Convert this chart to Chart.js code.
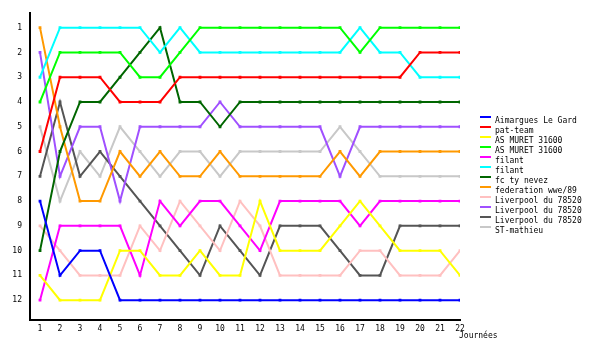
<!DOCTYPE html>
<html>
<head>
<meta charset="utf-8">
<script src="https://cdn.jsdelivr.net/npm/chart.js@4/dist/chart.umd.min.js"></script>
<style>
  html, body { margin: 0; padding: 0; background: #fff; }
  #wrap { width: 600px; height: 350px; position: relative; }
</style>
</head>
<body>
<div id="wrap"><canvas id="rankChart"></canvas></div>
<script>
// Journées 1..22
const days = [1,2,3,4,5,6,7,8,9,10,11,12,13,14,15,16,17,18,19,20,21,22];
const rankTicks = [1,2,3,4,5,6,7,8,9,10,11,12];

// classement par équipe
const aimargues   = [8,11,10,10,12,12,12,12,12,12,12,12,12,12,12,12,12,12,12,12,12,12];
const patTeam     = [6,3,3,3,4,4,4,3,3,3,3,3,3,3,3,3,3,3,3,2,2,2];
const muretJaune  = [11,12,12,12,10,10,11,11,10,11,11,8,10,10,10,9,8,9,10,10,10,11];
const muretVert   = [4,2,2,2,2,3,3,2,1,1,1,1,1,1,1,1,2,1,1,1,1,1];
const filantRose  = [12,9,9,9,9,11,8,9,8,8,9,10,8,8,8,8,9,8,8,8,8,8];
const filantCyan  = [3,1,1,1,1,1,2,1,2,2,2,2,2,2,2,2,1,2,2,3,3,3];
const fcTyNevez   = [10,6,4,4,3,2,1,4,4,5,4,4,4,4,4,4,4,4,4,4,4,4];
const federation  = [1,5,8,8,6,7,6,7,7,6,7,7,7,7,7,6,7,6,6,6,6,6];
const liverpool1  = [9,10,11,11,11,9,10,8,9,10,8,9,11,11,11,11,10,10,11,11,11,10];
const liverpool2  = [2,7,5,5,8,5,5,5,5,4,5,5,5,5,5,7,5,5,5,5,5,5];
const liverpool3  = [7,4,7,6,7,8,9,10,11,9,10,11,9,9,9,10,11,11,9,9,9,9];
const stMathieu   = [5,8,6,7,5,6,7,6,6,7,6,6,6,6,6,5,6,7,7,7,7,7];

const teams = ['Aimargues Le Gard','pat-team','AS MURET 31600','AS MURET 31600','filant','filant',
  'fc ty nevez','federation wwe/89','Liverpool du 78520','Liverpool du 78520','Liverpool du 78520','ST-mathieu'];
const series = [aimargues, patTeam, muretJaune, muretVert, filantRose, filantCyan,
  fcTyNevez, federation, liverpool1, liverpool2, liverpool3, stMathieu];
const colors = ['#0000ff','#ff0000','#ffff00','#00ff00','#ff00ff','#00ffff',
  '#006600','#ff9900','#ffc0c0','#a050ff','#555555','#c8c8c8'];

const monoFont = '"DejaVu Sans Mono", monospace';

// légende + titre d'axe dessinés à la main
const legendPlugin = {
  id: 'sideLegend',
  afterDraw(chart) {
    const ctx = chart.ctx;
    ctx.save();
    ctx.font = '8px ' + monoFont;
    ctx.textBaseline = 'middle';
    ctx.fillStyle = '#000';
    chart.data.datasets.forEach((ds, i) => {
      const y = 121 + i * 10;
      ctx.fillStyle = ds.borderColor;
      ctx.fillRect(480, y - 5, 11, 2);
      ctx.fillStyle = '#000';
      ctx.fillText(ds.label, 495, y);
    });
    ctx.fillText('Journées', 459, 336);
    ctx.restore();
  }
};

const ctx = document.getElementById('rankChart').getContext('2d');
const chart = new Chart(ctx, {
  type: 'line',
  data: {
    datasets: series.map((vals, i) => ({
      label: teams[i],
      data: days.map((d, k) => ({ x: d, y: vals[k] })),
      borderColor: colors[i],
      backgroundColor: colors[i],
      borderWidth: 2,
      pointStyle: 'rect',
      pointRadius: 2,
      pointBorderWidth: 0,
      tension: 0,
      fill: false
    }))
  },
  options: {
    responsive: true,
    maintainAspectRatio: false,
    animation: false,
    layout: { padding: { left: 0, top: 10, right: 140, bottom: 0 } },
    plugins: {
      legend: { display: false },
      tooltip: { enabled: false }
    },
    scales: {
      x: {
        type: 'linear',
        min: 0.5,
        max: 22,
        afterBuildTicks: s => { s.ticks = days.map(v => ({ value: v })); },
        afterFit: s => { s.height = 30; },
        grid: { display: false, drawTicks: false },
        border: { color: '#000', width: 2 },
        ticks: { color: '#000', font: { family: monoFont, size: 8 }, padding: 4, maxRotation: 0, autoSkip: false }
      },
      y: {
        type: 'linear',
        reverse: true,
        min: 0.4,
        max: 12.8,
        afterBuildTicks: s => { s.ticks = rankTicks.map(v => ({ value: v })); },
        afterFit: s => { s.width = 30; },
        grid: { display: false, drawTicks: false },
        border: { color: '#000', width: 2 },
        ticks: { color: '#000', font: { family: monoFont, size: 8 }, padding: 8, autoSkip: false }
      }
    }
  },
  plugins: [legendPlugin]
});
</script>
</body>
</html>
